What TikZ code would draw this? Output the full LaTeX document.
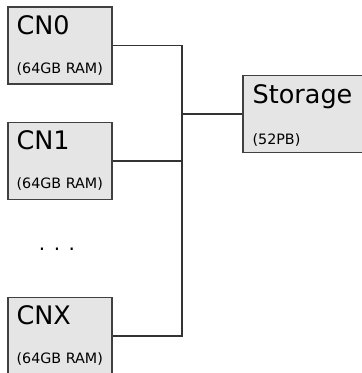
\documentclass[tikz,border=0pt]{standalone}
\usepackage{fontspec}
\setmainfont{DejaVu Sans}
\usepackage{tikz}
\usetikzlibrary{positioning, calc}
\colorlet{NODEfill}{black!10}
\colorlet{NODEline}{black!75}
\tikzset{
  machine/.style={draw=NODEline, fill=NODEfill, line width=1.2pt, minimum width=104pt, minimum height=77pt, inner sep=0pt},
  bigname/.style={anchor=base west, inner sep=0pt, font=\fontsize{25.5}{26}\selectfont},
  smallname/.style={anchor=base west, inner sep=0pt, font=\fontsize{14.3}{15}\selectfont},
  wire/.style={draw=black!80, line width=1.2pt}
}

\begin{document}
\begin{tikzpicture}[x=1pt, y=-1pt]
        \useasboundingbox (0,0) rectangle (362,373);
        \clip (0,0) rectangle (362,373);
        % compute nodes
        \node[machine] (cn0) at (60,45.5) {};
        \node[bigname] (cn0name) at ($(cn0.north west)+(9,28)$) {CN0};
        \node[smallname] (cn0ram) at ($(cn0.north west)+(9,67)$) {(64GB RAM)};
        \node[machine] (cn1) at (60,161) {};
        \node[bigname] (cn1name) at ($(cn1.north west)+(9,28)$) {CN1};
        \node[smallname] (cn1ram) at ($(cn1.north west)+(9,67)$) {(64GB RAM)};
        \node[font=\fontsize{20}{20}\selectfont] (dots) at (57,249) {. . .};
        \node[machine] (cnx) at (60,336) {};
        \node[bigname] (cnxname) at ($(cnx.north west)+(9,28)$) {CNX};
        \node[smallname] (cnxram) at ($(cnx.north west)+(9,67)$) {(64GB RAM)};
        % storage
        \node[machine, minimum width=130pt] (storage) at (308,114) {};
        \node[bigname] (storname) at ($(storage.north west)+(10,29)$) {Storage};
        \node[smallname] (storsize) at ($(storage.north west)+(10,70)$) {(52PB)};
        % wiring
        \coordinate (bus) at (182,114);
        \draw[wire] (cn0.east) -| (bus) |- (cnx.east);
        \draw[wire] (cn1.east) -- (cn1.east -| bus);
        \draw[wire] (bus) -- (storage.west);
      \end{tikzpicture}
\end{document}
